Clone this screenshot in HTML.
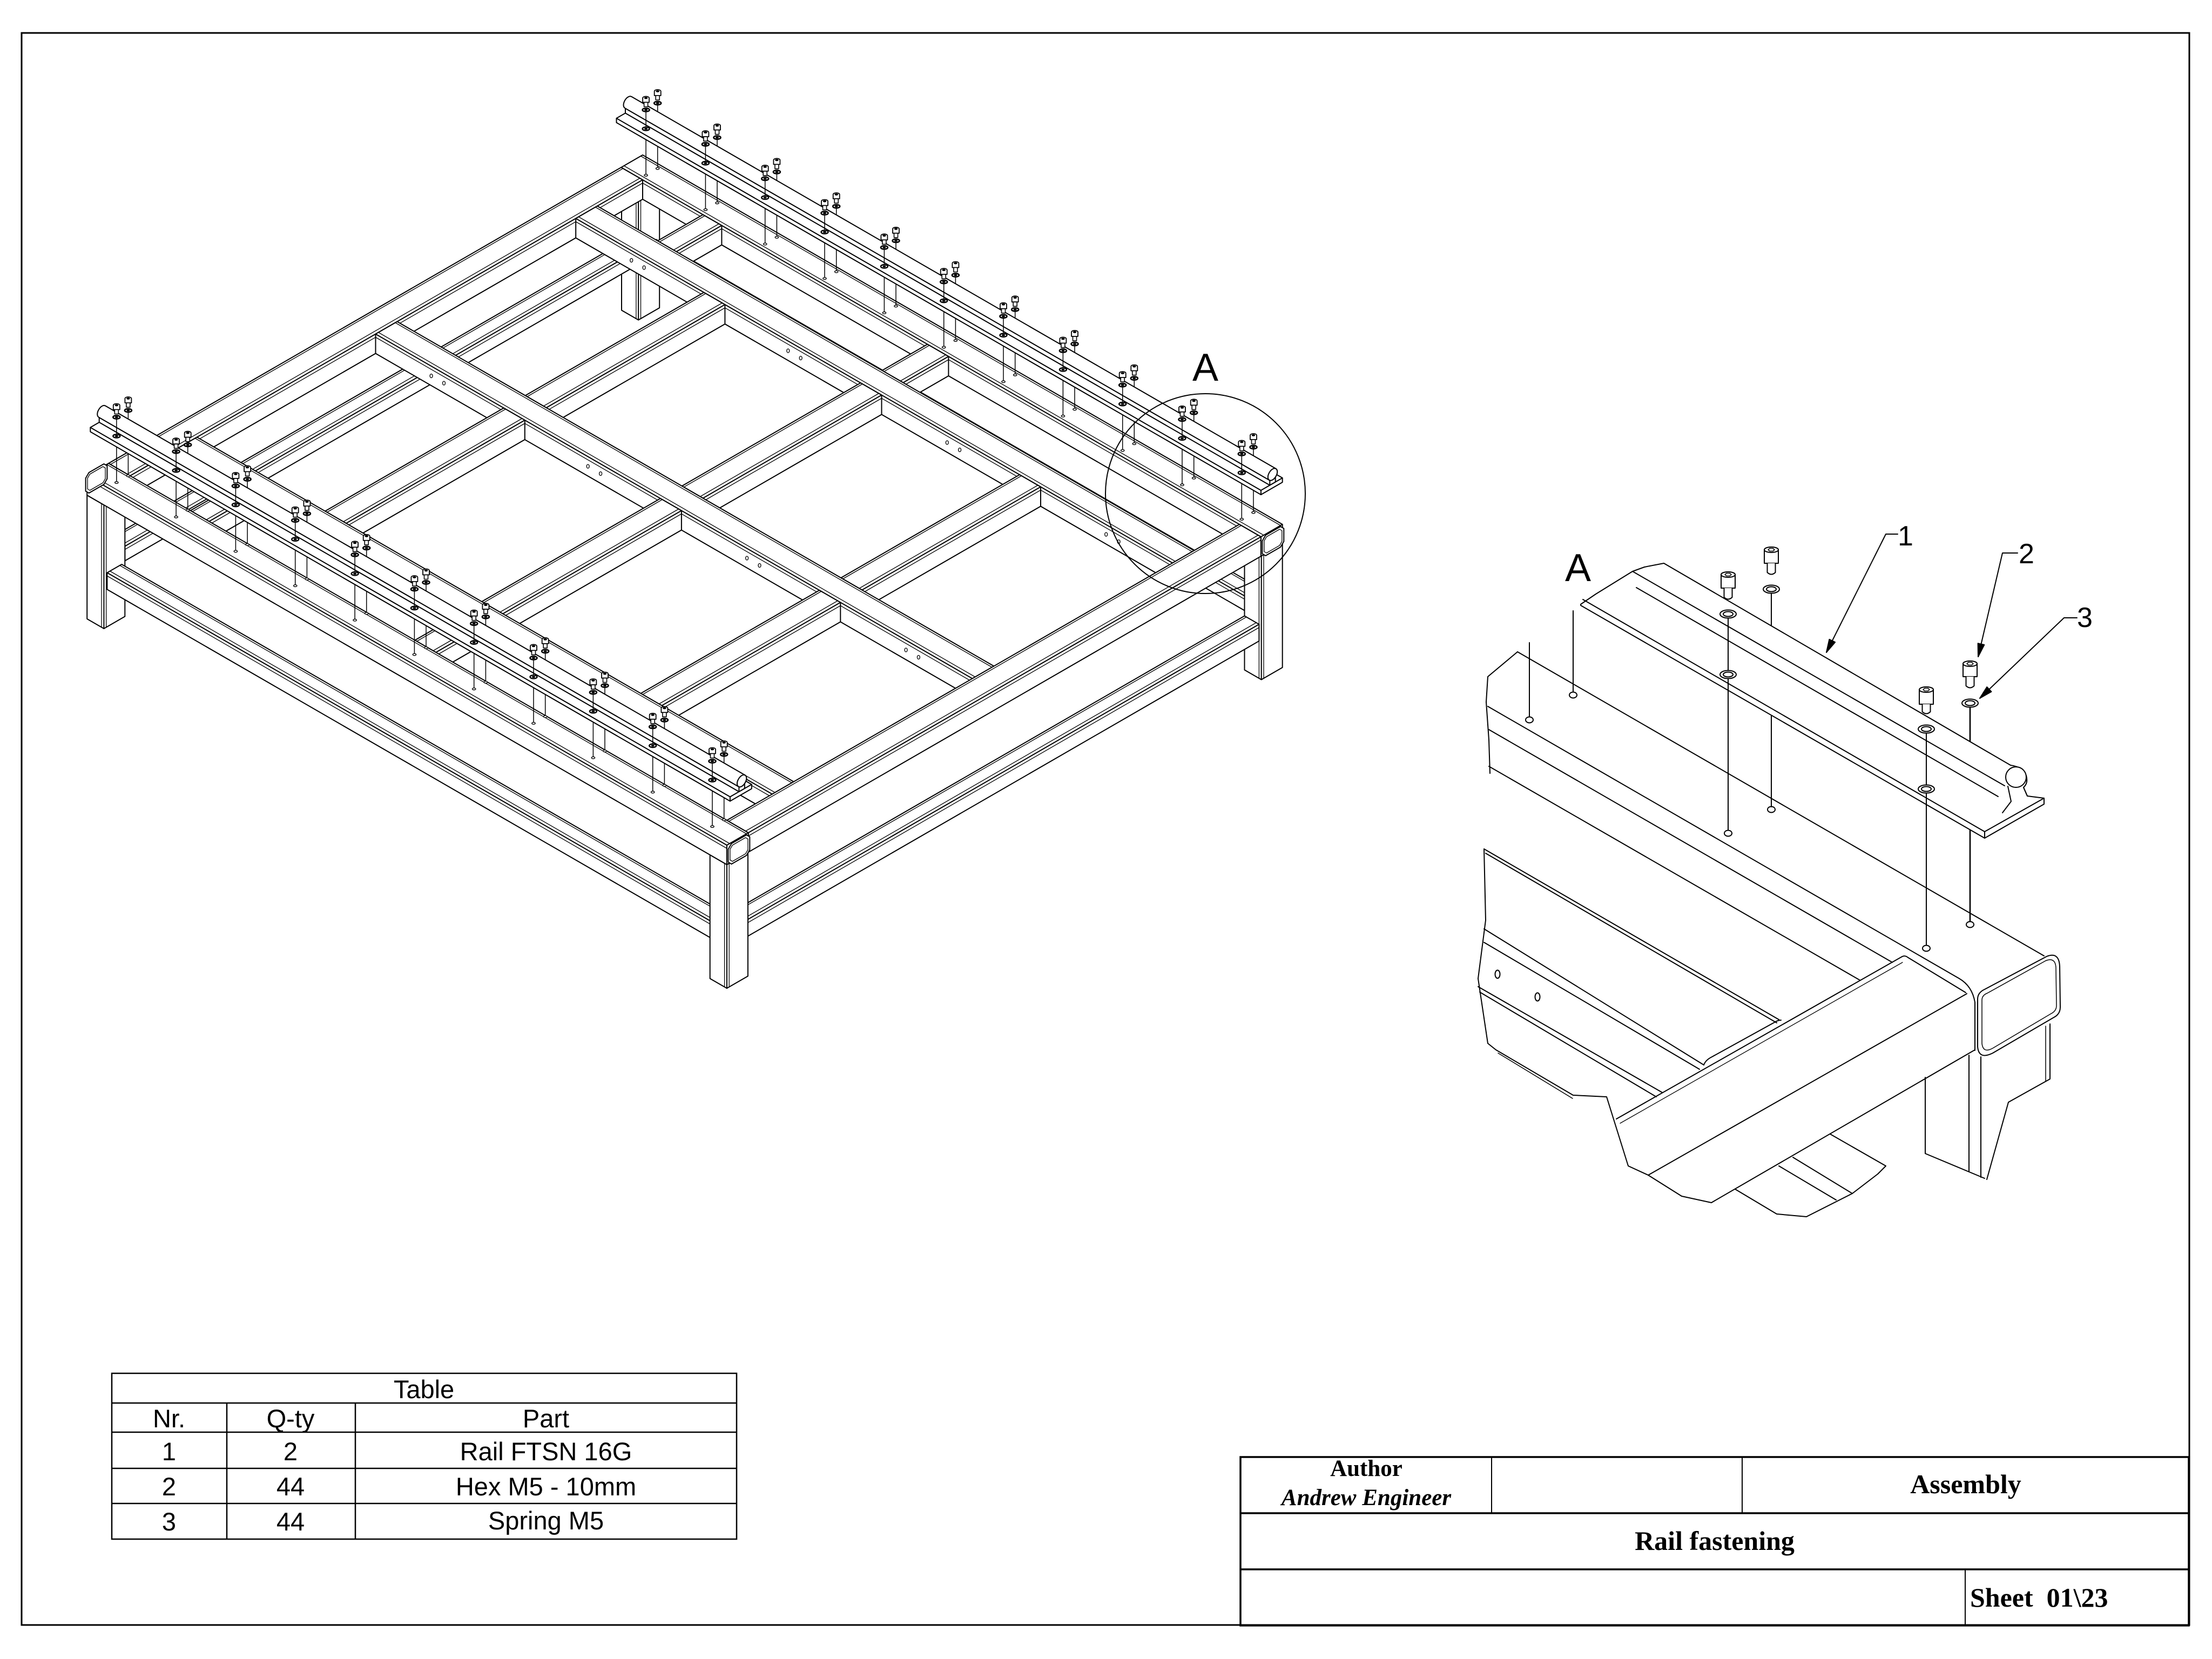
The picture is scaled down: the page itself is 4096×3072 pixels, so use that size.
<!DOCTYPE html>
<html><head><meta charset="utf-8"><title>Rail fastening</title>
<style>
html,body{margin:0;padding:0;background:#fff}
body{width:4096px;height:3072px;overflow:hidden}
svg{display:block}
</style></head><body>
<svg id="sv" xmlns="http://www.w3.org/2000/svg" width="4096" height="3072" viewBox="0 0 4096 3072">
<rect x="0" y="0" width="4096" height="3072" fill="#fff"/>
<rect x="40" y="61" width="4014" height="2948" fill="none" stroke="#000" stroke-width="3"/>

<!-- main isometric drawing (generated) -->
<g id="mainG" stroke="#000" stroke-width="2" stroke-linejoin="round" stroke-linecap="round" fill="#fff"></g>

<!-- detail circle + label -->
<circle cx="2232" cy="914" r="185" fill="none" stroke="#000" stroke-width="2"/>
<text x="2232" y="705" font-family="Liberation Sans, DejaVu Sans, sans-serif" font-size="72" text-anchor="middle" fill="#000">A</text>

<!-- DETAIL VIEW -->
<g fill="none" stroke="#000" stroke-width="2" stroke-linejoin="round" stroke-linecap="round">
 <!-- inner beam (lower-left) -->
 <path d="M2748,1572 L3294,1888 M2751,1580 L3290,1894 M2748,1720 L3155,1972 M2748,1745 L3147,1980 M2737,1827 L3078,2023 M2740,1837 L3067,2031"/>
 <path d="M3155,1972 Q3158,1963 3170,1957 L3286,1893 Q3292,1889 3298,1889"/>
 <path d="M2748,1572 L2751,1704 L2737,1812 L2755,1932 L2770,1944 L2913,2028 L2975,2031 L3015,2159 L3052,2176 L3114,2215 L3169,2227"/>
 <path d="M2774,1950 L2912,2034" stroke-width="1.5"/>
 <ellipse cx="2773" cy="1804" rx="4.5" ry="7.5"/>
 <ellipse cx="2847" cy="1846" rx="4.5" ry="7.5"/>
 <!-- main (cap) beam -->
 <path d="M2810,1207 L3785,1770"/>
 <path d="M2755,1308 L3628,1812 Q3652,1826 3657,1856 L3657,1945"/>
 <path d="M2757,1351 L3504,1782 M2757,1419 L3444,1815"/>
 <path d="M2810,1207 L2755,1253 L2752,1300 L2757,1370 L2759,1432"/>
 <!-- front beam -->
 <path d="M2993,2072 L3521,1772 Q3527,1768 3533,1773 L3640,1838"/>
 <path d="M3052,2176 L3642,1840"/>
 <path d="M3169,2227 L3657,1944"/>
 <path d="M3000,2080 L3523,1782" stroke-width="1.3"/>
 <!-- lower piece -->
 <path d="M3389,2100 L3492,2159 L3477,2174 L3430,2210 L3345,2253 L3290,2248 L3213,2202"/>
 <path d="M3320,2143 L3430,2210 M3294,2159 L3400,2222"/>
 <!-- leg -->
 <path d="M3565,1995 L3565,2136 L3675,2182"/>
 <path d="M3646,1954 L3646,2169 M3668,1957 L3668,2180"/>
 <path d="M3796,1896 L3796,1998 L3719,2041 L3679,2184"/>
 <path d="M3788,1900 L3788,2002" stroke-width="1.5"/>
 <!-- end cap -->
 <path fill="#fff" d="M3662,1850 Q3662,1838 3675,1832 L3790,1771 Q3813,1762 3814,1790 L3815,1865 Q3815,1878 3803,1884 L3690,1950 Q3664,1963 3662,1938 Z"/>
 <path d="M3670,1852 Q3670,1843 3680,1839 L3788,1779 Q3806,1772 3807,1792 L3808,1862 Q3808,1872 3798,1877 L3690,1941 Q3672,1951 3670,1932 Z" stroke-width="1.5"/>
</g>

<!-- detail bolts behind the rail -->
<g id="detBack" fill="none" stroke="#000" stroke-width="2" stroke-linecap="round"></g>

<!-- detail rail -->
<g fill="none" stroke="#000" stroke-width="2" stroke-linejoin="round" stroke-linecap="round">
 <path fill="#fff" d="M2927,1119 L2955,1100 L3023,1058 L3045,1050 L3081,1043 L3723,1417 Q3745,1420 3752,1436 Q3756,1450 3747,1458 L3754,1474 L3785,1478 L3785,1489 L3675,1552 L2927,1121 Z"/>
 <path d="M3023,1058 L3712,1455 M3030,1088 L3700,1475 M2931,1110 L3675,1540 L3785,1478 M3675,1540 L3675,1552"/>
 <ellipse cx="3733" cy="1439" rx="19" ry="19" fill="#fff"/>
 <path d="M3718,1456 L3724,1484 L3708,1505 M3747,1458 L3754,1474"/>
</g>

<!-- detail bolts in front + leaders -->
<g id="detFront" fill="none" stroke="#000" stroke-width="2" stroke-linecap="round" stroke-linejoin="round"></g>

<g font-family="Liberation Sans, DejaVu Sans, sans-serif" fill="#000">
 <text x="2922" y="1076" font-size="72" text-anchor="middle">A</text>
 <text x="3514" y="1010" font-size="52">1</text>
 <text x="3738" y="1043" font-size="52">2</text>
 <text x="3846" y="1161" font-size="52">3</text>
</g>

<!-- TABLE -->
<g stroke="#000" stroke-width="2.5" fill="none">
 <rect x="207" y="2543" width="1157" height="307"/>
 <line x1="207" y1="2598" x2="1364" y2="2598"/>
 <line x1="207" y1="2652" x2="1364" y2="2652"/>
 <line x1="207" y1="2719" x2="1364" y2="2719"/>
 <line x1="207" y1="2784" x2="1364" y2="2784"/>
 <line x1="420" y1="2598" x2="420" y2="2850"/>
 <line x1="658" y1="2598" x2="658" y2="2850"/>
</g>
<g font-family="Liberation Sans, DejaVu Sans, sans-serif" font-size="47" text-anchor="middle" fill="#000">
 <text x="785" y="2589">Table</text>
 <text x="313" y="2643">Nr.</text>
 <text x="538" y="2643">Q-ty</text>
 <text x="1011" y="2643">Part</text>
 <text x="313" y="2704">1</text>
 <text x="538" y="2704">2</text>
 <text x="1011" y="2704">Rail FTSN 16G</text>
 <text x="313" y="2769">2</text>
 <text x="538" y="2769">44</text>
 <text x="1011" y="2769">Hex M5 - 10mm</text>
 <text x="313" y="2834">3</text>
 <text x="538" y="2834">44</text>
 <text x="1011" y="2832">Spring M5</text>
</g>

<!-- TITLE BLOCK -->
<g stroke="#000" fill="none">
 <rect x="2297" y="2698" width="1756" height="312" stroke-width="3.5"/>
 <line x1="2297" y1="2802" x2="4053" y2="2802" stroke-width="3.5"/>
 <line x1="2297" y1="2906" x2="4053" y2="2906" stroke-width="3.5"/>
 <line x1="2762" y1="2698" x2="2762" y2="2802" stroke-width="2"/>
 <line x1="3226" y1="2698" x2="3226" y2="2802" stroke-width="2"/>
 <line x1="3639" y1="2906" x2="3639" y2="3010" stroke-width="2"/>
</g>
<g font-family="Liberation Serif, DejaVu Serif, serif" font-weight="bold" fill="#000">
 <text x="2530" y="2733" font-size="43" text-anchor="middle">Author</text>
 <text x="2530" y="2787" font-size="43" text-anchor="middle" font-style="italic">Andrew Engineer</text>
 <text x="3640" y="2765" font-size="50" text-anchor="middle">Assembly</text>
 <text x="3175" y="2870" font-size="50" text-anchor="middle">Rail fastening</text>
 <text x="3648" y="2975" font-size="50" xml:space="preserve">Sheet  01\23</text>
</g>
</svg>

<script>
(function(){
var ox=1190,oy=287,C=0.866,S=0.5;
function P(X,Y,Z){return [ox+C*(X-Y),oy+S*(X+Y)-Z];}
function f(n){return (Math.round(n*10)/10).toString();}
function pp(a){return a.map(function(p){return f(p[0])+','+f(p[1]);}).join(' ');}
var out=[];
function poly(a,fill,sw){out.push('<polygon points="'+pp(a)+'" fill="'+(fill||'#fff')+'"'+(sw?' stroke-width="'+sw+'"':'')+'/>');}
function ln(a,b,sw){out.push('<line x1="'+f(a[0])+'" y1="'+f(a[1])+'" x2="'+f(b[0])+'" y2="'+f(b[1])+'"'+(sw?' stroke-width="'+sw+'"':'')+'/>');}
function ell(p,rx,ry,fill,sw){out.push('<ellipse cx="'+f(p[0])+'" cy="'+f(p[1])+'" rx="'+rx+'" ry="'+ry+'" fill="'+(fill||'#fff')+'"'+(sw?' stroke-width="'+sw+'"':'')+'/>');}

function box(b){
 var x0=b[0],x1=b[1],y0=b[2],y1=b[3],z0=b[4],z1=b[5],ax=b[6];
 poly([P(x0,y0,z1),P(x1,y0,z1),P(x1,y0,z0),P(x1,y1,z0),P(x0,y1,z0),P(x0,y1,z1)]);
 var c=P(x1,y1,z1);
 ln(c,P(x1,y0,z1));ln(c,P(x0,y1,z1));ln(c,P(x1,y1,z0));
 var r=6,t=1.3;
 if(ax==='x'){
  ln(P(x0,y1-r,z1),P(x1,y1-r,z1),t);
  ln(P(x0,y1,z1-r),P(x1,y1,z1-r),t);
  ln(P(x0,y0+4,z1),P(x1,y0+4,z1),t);
 }else if(ax==='y'){
  ln(P(x1-r,y0,z1),P(x1-r,y1,z1),t);
  ln(P(x1,y0,z1-r),P(x1,y1,z1-r),t);
  ln(P(x0+4,y0,z1),P(x0+4,y1,z1),t);
 }else if(ax==='z'){
  ln(P(x1,y1-5,z0),P(x1,y1-5,z1),t);
  ln(P(x1-5,y1,z0),P(x1-5,y1,z1),t);
 }
}
var B=[];
function add(x0,x1,y0,y1,z0,z1,ax){B.push([x0,x1,y0,y1,z0,z1,ax]);}
// top frame
add(0,1368,0,46,-36,0,'x');
add(0,1368,1142,1188,-36,0,'x');
add(0,46,46,1142,-36,0,'y');
add(1322,1368,46,1142,-36,0,'y');
add(46,1322,143,189,-36,0,'x');
add(46,1322,571,617,-36,0,'x');
add(46,1322,999,1045,-36,0,'x');
[[320,365],[655,700],[995,1040]].forEach(function(c){
 add(c[0],c[1],189,571,-36,0,'y');
 add(c[0],c[1],617,999,-36,0,'y');
});
[[175,215],[655,700]].forEach(function(c){
 add(c[0],c[1],46,143,-36,0,'y');
 add(c[0],c[1],1045,1142,-36,0,'y');
});
// legs
add(0,36,0,45,-265,-36,'z');
add(1332,1368,0,45,-265,-36,'z');
add(0,36,1143,1188,-265,-36,'z');
add(1332,1368,1143,1188,-265,-36,'z');
// lower stretchers
add(36,1332,1150,1181,-196,-165,'x');
add(36,1332,7,38,-162,-135,'x');
add(5,36,45,1143,-162,-135,'y');
add(1332,1363,45,1143,-196,-165,'y');

function bb(b){var xs=[],ys=[];for(var i=0;i<8;i++){var p=P(b[(i&1)?1:0],b[(i&2)?3:2],b[(i&4)?5:4]);xs.push(p[0]);ys.push(p[1]);}
 return [Math.min.apply(0,xs),Math.max.apply(0,xs),Math.min.apply(0,ys),Math.max.apply(0,ys)];}
function before(a,b){
 if(a[1]<=b[0])return true; if(b[1]<=a[0])return false;
 if(a[3]<=b[2])return true; if(b[3]<=a[2])return false;
 if(a[5]<=b[4])return true; if(b[5]<=a[4])return false;
 return false;}
var n=B.length,adj=[],bbs=B.map(bb),i,j;
for(i=0;i<n;i++)adj.push([]);
for(i=0;i<n;i++)for(j=i+1;j<n;j++){
 var A=bbs[i],Bq=bbs[j];
 if(A[1]<Bq[0]+1||Bq[1]<A[0]+1||A[3]<Bq[2]+1||Bq[3]<A[2]+1)continue;
 if(before(B[i],B[j]))adj[i].push(j);else if(before(B[j],B[i]))adj[j].push(i);
}
var vis=[],order=[];
function dfs(u){vis[u]=1;adj[u].forEach(function(v){if(!vis[v])dfs(v);});order.push(u);}
for(i=0;i<n;i++)if(!vis[i])dfs(i);
order.reverse();
order.forEach(function(k){box(B[k]);});

// holes on beam side faces
[617,1045,189].forEach(function(Y){
 [165,192,500,527,840,867,1180,1207].forEach(function(X){ell(P(X,Y,-18),2.5,3.5,'#fff',1.3);});
});

// end caps
function capX(X,y0,y1,z0,z1){
 var r=7;
 poly([P(X,y0,z1-r),P(X,y0+r,z1),P(X,y1-r,z1),P(X,y1,z1-r),P(X,y1,z0+r),P(X,y1-r,z0),P(X,y0+r,z0),P(X,y0,z0+r)]);
 var k=4,r2=5;
 poly([P(X,y0+k,z1-k-r2),P(X,y0+k+r2,z1-k),P(X,y1-k-r2,z1-k),P(X,y1-k,z1-k-r2),P(X,y1-k,z0+k+r2),P(X,y1-k-r2,z0+k),P(X,y0+k+r2,z0+k),P(X,y0+k,z0+k+r2)],'none',1.3);
}
capX(1371,0,46,-37,1);
capX(1371,1142,1188,-37,1);
capX(-3,1142,1188,-37,1);

// rails & bolts
function hull(pts){pts=pts.slice().sort(function(a,b){return a[0]-b[0]||a[1]-b[1];});
 function cr(o,a,b){return (a[0]-o[0])*(b[1]-o[1])-(a[1]-o[1])*(b[0]-o[0]);}
 var lo=[],up=[],k,p;
 for(k=0;k<pts.length;k++){p=pts[k];while(lo.length>=2&&cr(lo[lo.length-2],lo[lo.length-1],p)<=0)lo.pop();lo.push(p);}
 for(k=pts.length-1;k>=0;k--){p=pts[k];while(up.length>=2&&cr(up[up.length-2],up[up.length-1],p)<=0)up.pop();up.push(p);}
 up.pop();lo.pop();return lo.concat(up);}
function rod(X0,X1,yc,zc,r){
 var a=[],e=[];
 for(var k=0;k<24;k++){var t=k*Math.PI/12,yy=yc+r*Math.cos(t),zz=zc+r*Math.sin(t);a.push(P(X0,yy,zz));a.push(P(X1,yy,zz));e.push(P(X1,yy,zz));}
 poly(hull(a));poly(e);
}
function rail(y0,X0){
 var X1=1368;
 box([X0,X1,y0,y0+46,78,86,'']);
 box([X0,X1,y0+15,y0+27,86,95,'']);
 rod(X0,X1,y0+21,103,10);
}
function bx(s){var a=[];for(var k=0;k<11;k++)a.push(s+127.4*k);return a;}
var rails=[{y0:0,xs:bx(41),X0:-10},{y0:1135,xs:bx(44),X0:0}];
// all bolt lines first
rails.forEach(function(R){R.xs.forEach(function(X){[R.y0+9,R.y0+34].forEach(function(Y){
 ln(P(X,Y,121),P(X,Y,0),1.5); ell(P(X,Y,0),3.2,1.8,'#fff',1.4);
});});});
rails.forEach(function(R){rail(R.y0,R.X0);});
function head(X,Y){
 var t=P(X,Y,146),m=P(X,Y,135),b=P(X,Y,127),x=t[0];
 out.push('<path d="M'+f(x-6)+','+f(m[1])+' L'+f(x-6)+','+f(t[1]+3)+' A6,3 0 0 1 '+f(x+6)+','+f(t[1]+3)+' L'+f(x+6)+','+f(m[1])+' Z" fill="#fff" stroke-width="1.8"/>');
 out.push('<rect x="'+f(x-3.5)+'" y="'+f(m[1])+'" width="7" height="'+f(b[1]-m[1])+'" fill="#fff" stroke-width="1.6"/>');
 ell([x,t[1]+3],2.8,1.4,'#000',1);
}
rails.forEach(function(R){R.xs.forEach(function(X){
 var Yb=R.y0+9,Yf=R.y0+34;
 ell(P(X,Yb,121),6.5,3.2,'#fff',2.6); ell(P(X,Yb,121),2.5,1.2,'#000',1); head(X,Yb);
 ln(P(X,Yf,121),P(X,Yf,86),1.5);
 ell(P(X,Yf,86),6.5,3.2,'#fff',2.4); ell(P(X,Yf,86),2.5,1.2,'#000',1);
 ell(P(X,Yf,121),6.5,3.2,'#fff',2.6); ell(P(X,Yf,121),2.5,1.2,'#000',1); head(X,Yf);
});});
document.getElementById('mainG').innerHTML=out.join('');

// ---- detail bolts ----
function L(x,a,b,sw){return '<line x1="'+x+'" y1="'+a+'" x2="'+x+'" y2="'+b+'"'+(sw?' stroke-width="'+sw+'"':'')+'/>';}
function E(cx,cy,rx,ry,fill){return '<ellipse cx="'+cx+'" cy="'+cy+'" rx="'+rx+'" ry="'+ry+'" fill="'+(fill||'none')+'"/>';}
function washer(cx,cy){return E(cx,cy,15,7.5,'#fff')+E(cx,cy,9,4.5);}
function dHead(cx,ht,hb,sb){
 var s='';
 s+='<path d="M'+(cx-13)+','+hb+' L'+(cx-13)+','+(ht+5)+' A13,5 0 0 1 '+(cx+13)+','+(ht+5)+' L'+(cx+13)+','+hb+' Z" fill="#fff"/>';
 s+=E(cx,ht+5,13,5,'#fff');
 s+='<polygon points="'+(cx-6)+','+(ht+5)+' '+(cx-3)+','+(ht+2.5)+' '+(cx+3)+','+(ht+2.5)+' '+(cx+6)+','+(ht+5)+' '+(cx+3)+','+(ht+7.5)+' '+(cx-3)+','+(ht+7.5)+'" fill="none" stroke-width="1.5"/>';
 s+='<path d="M'+(cx-7.5)+','+hb+' L'+(cx-7.5)+','+(sb-4)+' Q'+cx+','+(sb+3)+' '+(cx+7.5)+','+(sb-4)+' L'+(cx+7.5)+','+hb+'" fill="#fff"/>';
 return s;
}
var back='';
back+=L(3280,1099,1494)+E(3280,1499,7,5.5);
back+=L(3648,1310,1706,2.6)+E(3648,1712,7,5.5);
back+=L(2913,1131,1281)+E(2913,1287,7,5.5);
back+=L(2832,1190,1327)+E(2832,1333,7,5.5);
document.getElementById('detBack').innerHTML=back;

var fr='';
// bolt B & D heads (back row)
fr+=washer(3280,1091)+dHead(3280,1013,1043,1064);
fr+=washer(3648,1302)+dHead(3648,1224,1253,1274);
// bolt A (front row)
fr+=L(3200,1145,1242)+washer(3200,1249)+L(3200,1257,1537)+E(3200,1543,7,5.5);
fr+=washer(3200,1137)+dHead(3200,1059,1089,1110);
// bolt C (front row)
fr+=L(3567,1358,1454)+washer(3567,1461)+L(3567,1469,1750)+E(3567,1756,7,5.5);
fr+=washer(3567,1350)+dHead(3567,1272,1304,1322);
// leaders
function leader(tx,ty,kx,ky,hx,hy){
 var dx=tx-kx,dy=ty-ky,l=Math.sqrt(dx*dx+dy*dy),ux=dx/l,uy=dy/l,bx=tx-24*ux,by=ty-24*uy,px=-uy*6,py=ux*6;
 return '<polyline points="'+hx+','+hy+' '+kx+','+ky+' '+tx+','+ty+'" stroke-width="2"/>'+
  '<polygon points="'+tx+','+ty+' '+(bx+px).toFixed(1)+','+(by+py).toFixed(1)+' '+(bx-px).toFixed(1)+','+(by-py).toFixed(1)+'" fill="#000"/>';
}
fr+=leader(3382,1208,3492,989,3514,989);
fr+=leader(3663,1216,3708,1024,3736,1024);
fr+=leader(3666,1293,3822,1144,3846,1144);
document.getElementById('detFront').innerHTML=fr;
})();
</script>
</body></html>
